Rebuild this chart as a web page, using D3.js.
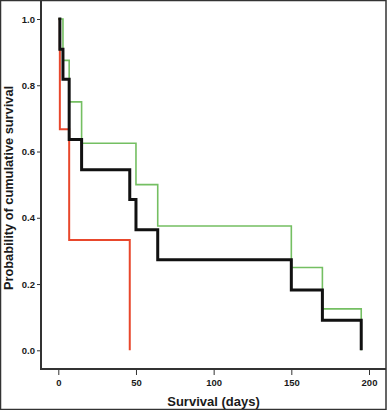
<!DOCTYPE html>
<html><head><meta charset="utf-8">
<script src="https://cdn.jsdelivr.net/npm/d3@7"></script>
<style>body{margin:0;background:#fff}svg{display:block}</style>
</head><body>
<svg id="c" width="387" height="410"></svg>
<script>
const xTicks = [0, 50, 100, 150, 200];
const yTicks = [0.0, 0.2, 0.4, 0.6, 0.8, 1.0];
const xLabel = "Survival (days)";
const yLabel = "Probability of cumulative survival";

const redTimes = [0, 1, 7, 46];
const redSurv  = [1, 0.667, 0.333, 0];
const greenTimes = [0, 3, 7, 15, 50, 64, 150, 170, 195];
const greenSurv  = [1, 0.875, 0.75, 0.625, 0.5, 0.375, 0.25, 0.125, 0];
const blackTimes = [0, 1, 3, 7, 15, 46, 50, 64, 150, 170, 195];
const blackSurv  = [1, 0.909, 0.818, 0.636, 0.545, 0.455, 0.364, 0.273, 0.182, 0.091, 0];

const svg = d3.select("#c");
const x = d3.scaleLinear().domain([0, 200]).range([58.3, 369]);
const y = d3.scaleLinear().domain([0, 1]).range([350.3, 19]);
const frame = {l: 41, t: 0, r: 386, b: 369};

// outer border
svg.append("rect").attr("x", 0.5).attr("y", 0.5).attr("width", 385.5).attr("height", 409)
  .attr("fill", "none").attr("stroke", "#333").attr("stroke-width", 1.5);

// axes
const xAxis = d3.axisBottom(x).tickValues(xTicks).tickSize(6).tickSizeOuter(0).tickFormat(d3.format("d"));
const gx = svg.append("g").attr("transform", `translate(0,${frame.b})`).call(xAxis);
gx.select(".domain").remove();
gx.append("line").attr("x1", frame.l).attr("x2", frame.r).attr("stroke", "#333").attr("stroke-width", 2);
gx.selectAll(".tick line").attr("stroke", "#333");
gx.selectAll(".tick text").attr("y", 10).attr("font-family", "Liberation Sans, Arial, sans-serif")
  .attr("font-size", 9.5).attr("font-weight", "bold").attr("fill", "#1a1a1a");

const yAxis = d3.axisLeft(y).tickValues(yTicks).tickSize(4).tickSizeOuter(0).tickFormat(d3.format(".1f"));
const gy = svg.append("g").attr("transform", `translate(${frame.l},0)`).call(yAxis);
gy.select(".domain").remove();
gy.append("line").attr("y1", frame.t).attr("y2", frame.b + 1).attr("stroke", "#333").attr("stroke-width", 2);
gy.selectAll(".tick line").attr("stroke", "#333");
gy.selectAll(".tick text").attr("x", -6).attr("font-family", "Liberation Sans, Arial, sans-serif")
  .attr("font-size", 9.5).attr("font-weight", "bold").attr("fill", "#1a1a1a");

// curves
const line = d3.line().x(d => x(d[0])).y(d => y(d[1])).curve(d3.curveStepAfter);
function curve(times, surv, color, w) {
  svg.append("path").datum(times.map((t, i) => [t, surv[i]]))
    .attr("d", line).attr("fill", "none").attr("stroke", color).attr("stroke-width", w);
}
curve(redTimes, redSurv, "#e8472c", 2);
curve(greenTimes, greenSurv, "#74bf62", 1.6);
curve(blackTimes, blackSurv, "#111", 3);

// titles
svg.append("text").attr("x", 213.5).attr("y", 406).attr("text-anchor", "middle")
  .attr("font-family", "Liberation Sans, Arial, sans-serif").attr("font-size", 13)
  .attr("font-weight", "bold").attr("fill", "#1a1a1a").text(xLabel);
svg.append("text").attr("transform", "translate(12.5,188) rotate(-90)").attr("text-anchor", "middle")
  .attr("font-family", "Liberation Sans, Arial, sans-serif").attr("font-size", 12.8)
  .attr("font-weight", "bold").attr("fill", "#1a1a1a").text(yLabel);
</script>
</body></html>
